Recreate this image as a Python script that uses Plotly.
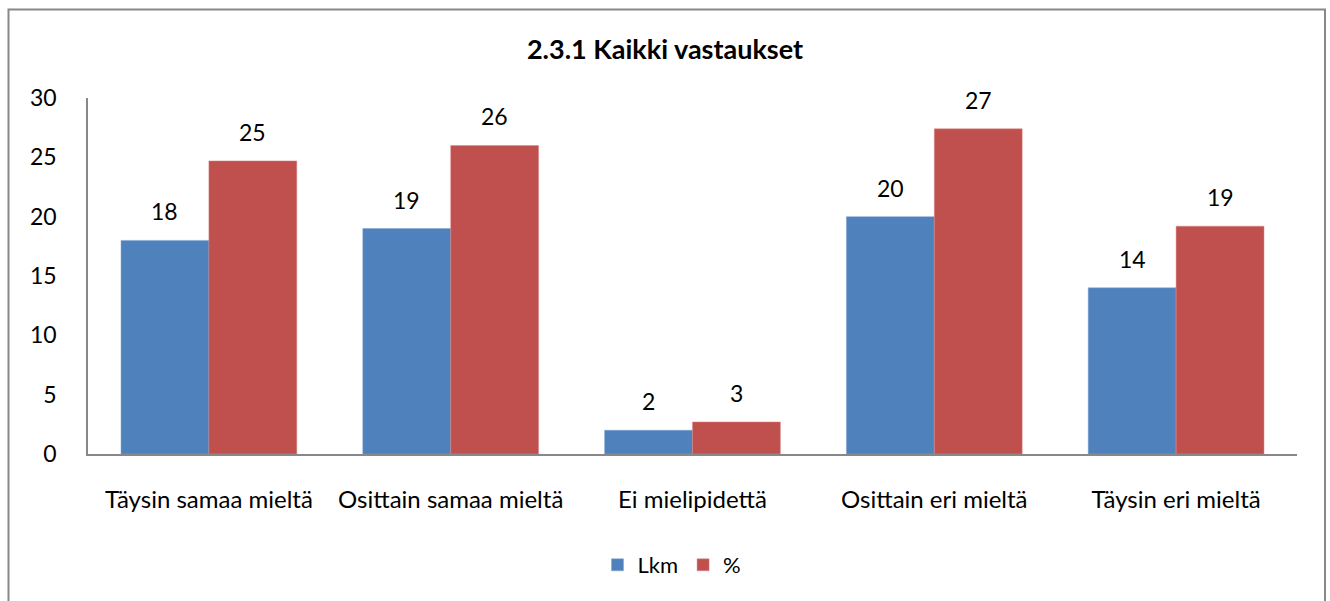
import plotly.graph_objects as go

categories = ["Täysin samaa mieltä", "Osittain samaa mieltä", "Ei mielipidettä",
              "Osittain eri mieltä", "Täysin eri mieltä"]
lkm = [18, 19, 2, 20, 14]
pct = [24.7, 26.0, 2.7, 27.4, 19.2]
y_ticks = [0, 5, 10, 15, 20, 25, 30]

W, H = 1330, 601
L, R, T, B = 88, 1297, 98, 454  # plot area in pixels

def px_x(x):
    return (x - L) / (R - L)

def px_y(y):
    return (B - y) / (B - T)

FONT = "Lato"
BAR_HALF = 44  # px offset of each bar centre from category centre

fig = go.Figure()
fig.add_trace(go.Bar(
    name="Lkm", x=categories, y=lkm,
    marker=dict(color="#4F81BD", line=dict(color="#7FA3D0", width=0.5)),
))
fig.add_trace(go.Bar(
    name="%", x=categories, y=pct,
    marker=dict(color="#C0504D", line=dict(color="#D98886", width=0.5)),
))

for series, shift in ((lkm, -BAR_HALF), (pct, BAR_HALF)):
    for c, v in zip(categories, series):
        fig.add_annotation(x=c, y=v, text=f"{v:.0f}", showarrow=False,
                           xshift=shift, yshift=13, yanchor="bottom",
                           font=dict(size=23, family=FONT, color="black"))

fig.update_layout(
    width=W, height=H,
    margin=dict(l=L, r=W - R, t=T, b=H - B, pad=0),
    paper_bgcolor="white", plot_bgcolor="white",
    font=dict(family=FONT, size=22, color="black"),
    title=dict(text="<b>2.3.1 Kaikki vastaukset</b>", x=0.5, xanchor="center",
               y=1 - 50 / H, yanchor="middle", font=dict(size=27, family=FONT)),
    barmode="group", bargap=0.273, bargroupgap=0,
    showlegend=True,
    legend=dict(orientation="h", x=px_x(672), xanchor="center",
                y=px_y(565), yanchor="middle", font=dict(size=22, family=FONT),
                itemwidth=30, traceorder="normal"),
    xaxis=dict(showline=True, linecolor="#888888", linewidth=1.5, ticks="",
               showgrid=False, tickfont=dict(size=24, family=FONT), ticklabelstandoff=23),
    yaxis=dict(range=[0, 30], tickvals=y_ticks, showline=True, linecolor="#888888",
               linewidth=1.5, ticks="", showgrid=False, zeroline=False,
               tickfont=dict(size=23, family=FONT), ticklabelstandoff=25),
)

fig.add_shape(type="rect", xref="paper", yref="paper",
              x0=px_x(8.5), x1=px_x(1325), y0=px_y(640), y1=px_y(9.5),
              line=dict(color="#888888", width=2), fillcolor="rgba(0,0,0,0)", layer="below")

fig.write_html(
    "out.html",
    config={"displayModeBar": False},
    post_script="document.body.style.margin='0';document.body.style.overflow='hidden';",
)
